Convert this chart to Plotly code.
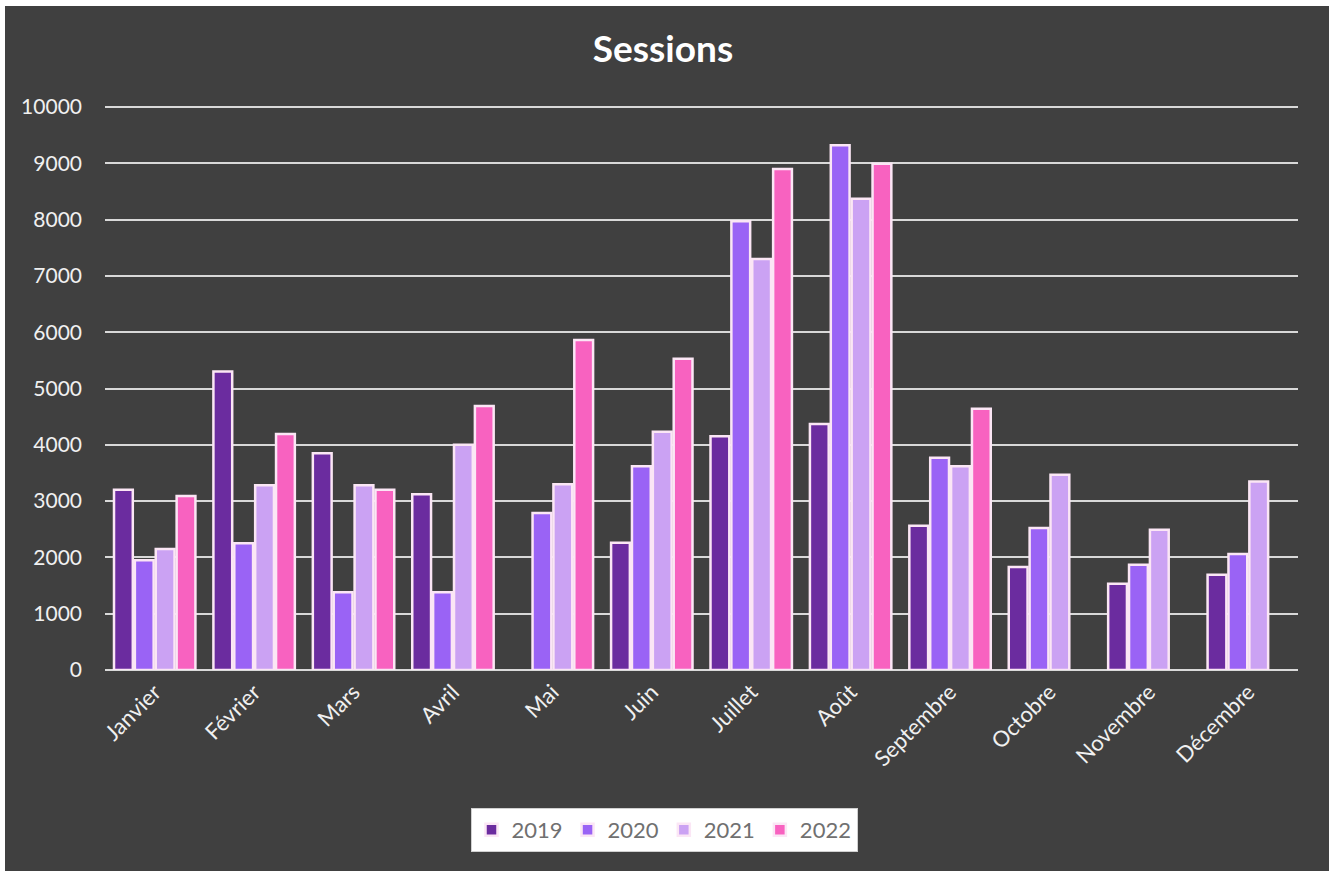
import plotly.graph_objects as go

# Monthly sessions per year
months = ["Janvier", "Février", "Mars", "Avril", "Mai", "Juin", "Juillet",
          "Août", "Septembre", "Octobre", "Novembre", "Décembre"]
years = ["2019", "2020", "2021", "2022"]

sessions_2019 = [3200, 5300, 3850, 3120, None, 2260, 4150, 4370, 2560, 1830, 1530, 1690]
sessions_2020 = [1950, 2250, 1380, 1380, 2790, 3620, 7970, 9320, 3770, 2520, 1870, 2060]
sessions_2021 = [2150, 3280, 3280, 4000, 3300, 4230, 7300, 8370, 3620, 3470, 2490, 3350]
sessions_2022 = [3090, 4190, 3200, 4690, 5860, 5530, 8900, 8990, 4640, None, None, None]

y_ticks = [0, 1000, 2000, 3000, 4000, 5000, 6000, 7000, 8000, 9000, 10000]

series = [sessions_2019, sessions_2020, sessions_2021, sessions_2022]
colors = ["#6b2c9f", "#9a63f5", "#cba2f3", "#f862c0"]

W, H = 1334, 871
ML, MR, MT, MB = 105, 36, 104, 201
PW, PH = W - ML - MR, H - MT - MB
# leave a few pixels of headroom so the top gridline is drawn
Y_MAX = 10000 * PH / 563


def px_x(px):
    return (px - ML) / PW


def px_y(py):
    return (H - MB - py) / PH


fig = go.Figure()
for name, vals, col in zip(years, series, colors):
    fig.add_trace(go.Bar(
        x=months, y=vals, name=name,
        marker=dict(color=col, line=dict(color="#fbe6f5", width=2.5)),
    ))

font_family = "Lato, 'Open Sans', sans-serif"

fig.update_layout(
    width=W, height=H,
    margin=dict(l=ML, r=MR, t=MT, b=MB),
    paper_bgcolor="#ffffff",
    plot_bgcolor="rgba(0,0,0,0)",
    barmode="group",
    bargap=0.16,
    bargroupgap=0.1,
    title=dict(text="<b>Sessions</b>", x=px_x(663), xref="paper", xanchor="center",
               y=1 - 49 / H, yanchor="middle",
               font=dict(family=font_family, size=37, color="#ffffff")),
    font=dict(family=font_family, color="#e6e6e6"),
    shapes=[dict(type="rect", xref="paper", yref="paper", layer="below",
                 x0=px_x(5), x1=px_x(1329), y0=px_y(H + 2), y1=px_y(6),
                 fillcolor="#404040", line=dict(width=0))],
    legend=dict(
        orientation="h", x=px_x(664), xanchor="center",
        y=px_y(808), yanchor="top",
        bgcolor="#ffffff", bordercolor="#d0d0d0", borderwidth=1,
        font=dict(family=font_family, size=22, color="#707070"),
        itemwidth=30, traceorder="normal",
    ),
)

fig.update_yaxes(
    range=[0, Y_MAX], tickvals=y_ticks, ticktext=[str(v) for v in y_ticks],
    showgrid=True, gridcolor="#d9d9d9", gridwidth=2,
    zeroline=True, zerolinecolor="#d9d9d9", zerolinewidth=2,
    showline=False, ticks="", ticklabelstandoff=22,
    tickfont=dict(size=21, color="#f0f0f0"),
)
fig.update_xaxes(
    tickangle=-45, showgrid=False, showline=False, ticks="",
    ticklabelstandoff=4,
    tickfont=dict(size=22, color="#f0f0f0"),
)

fig.write_html("out.html")
